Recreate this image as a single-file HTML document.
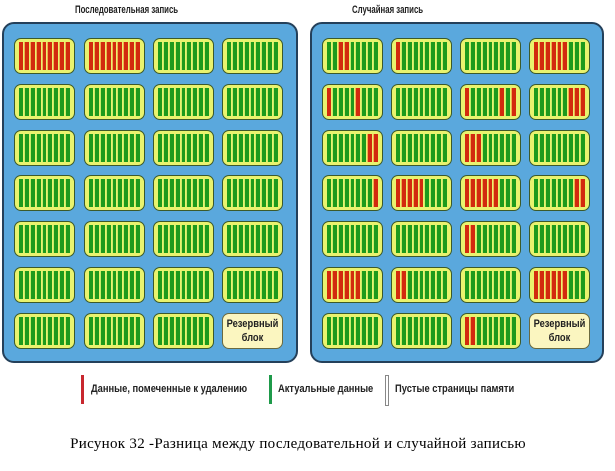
<!DOCTYPE html>
<html><head><meta charset="utf-8">
<style>
html,body{margin:0;padding:0;background:#fff;}
body{width:615px;height:471px;position:relative;overflow:hidden;font-family:"Liberation Sans",sans-serif;}
.title{position:absolute;top:4px;font-size:11px;font-weight:bold;color:#222;transform-origin:left;transform:scaleX(0.71);white-space:nowrap;}
.panel{position:absolute;top:22px;height:341px;background:#5aa8dd;border:2px solid #24405a;border-radius:12px;box-sizing:border-box;}
.blk{position:absolute;width:61px;height:36px;box-sizing:border-box;border:1px solid #3c5a2a;border-radius:7px;background:#e9f36e;padding:3px 4px;display:flex;gap:1px;}
.s{flex:1;background:#1d9a1c;border-left:1px solid #c9ec6a;}
.s.r{background:#d22a0e;border-left-color:#f0b050;}
.s:first-child{border-left:none;}
.res{background:#fbf6c0;border-color:#6a6a40;justify-content:center;align-items:center;text-align:center;color:#222;}
.res span{display:block;font-size:11px;font-weight:bold;line-height:14px;transform:scaleX(0.85);white-space:nowrap;}
.lg{position:absolute;top:375px;width:3px;height:29px;}
.lt{position:absolute;top:383px;font-size:11px;font-weight:bold;color:#222;transform-origin:left;transform:scaleX(0.85);white-space:nowrap;}
.cap{position:absolute;top:436px;left:62px;width:472px;text-align:center;font-family:"Liberation Serif",serif;font-size:15px;letter-spacing:0.3px;color:#000;white-space:nowrap;}
</style></head><body>
<div class="title" style="left:75px;">Последовательная запись</div>
<div class="title" style="left:352px;">Случайная запись</div>
<div class="panel" style="left:2px;width:296px;"></div>
<div class="panel" style="left:310px;width:294px;"></div>
<div id="g"></div>
<div class="lg" style="left:81px;background:#c8282e;"></div>
<div class="lt" style="left:91px;">Данные, помеченные к удалению</div>
<div class="lg" style="left:269px;background:#1e9a4a;"></div>
<div class="lt" style="left:278px;">Актуальные данные</div>
<div class="lg" style="left:385px;background:#fff;border:1px solid #888;width:2px;"></div>
<div class="lt" style="left:395px;">Пустые страницы памяти</div>
<div class="cap">Рисунок 32 -Разница между последовательной и случайной записью</div>
<script>
var g=document.getElementById('g'),h='';
var lx=[14,84,153,222],rx=[322,391,460,529];
function blk(x,y,reds,res){
 if(res){h+='<div class="blk res" style="left:'+x+'px;top:'+y+'px"><div><span>Резервный</span><span>блок</span></div></div>';return;}
 h+='<div class="blk" style="left:'+x+'px;top:'+y+'px">';
 for(var i=0;i<9;i++)h+='<div class="s'+(reds.indexOf(i)>=0?' r':'')+'"></div>';
 h+='</div>';
}
var R=[[[2,3],[0],[],[0,1,2,3,4,5]],
[[0,5],[],[0,6,8],[6,7,8]],
[[7,8],[],[0,1,2],[]],
[[8],[0,1,2,3,4],[0,1,2,3,4,5],[7,8]],
[[],[],[0,1],[]],
[[0,1,2,3,4,5],[0,1],[],[0,1,2,3,4,5]],
[[],[],[0,1],null]];
var all=[0,1,2,3,4,5,6,7,8];
for(var r=0;r<7;r++){var y=Math.round(38+r*45.8);
 for(var c=0;c<4;c++){
  var lr=(r==0&&c<2)?all:[];
  blk(lx[c],y,lr,r==6&&c==3);
  blk(rx[c],y,R[r][c]||[],r==6&&c==3);
 }}
g.innerHTML=h;
</script>
</body></html>
